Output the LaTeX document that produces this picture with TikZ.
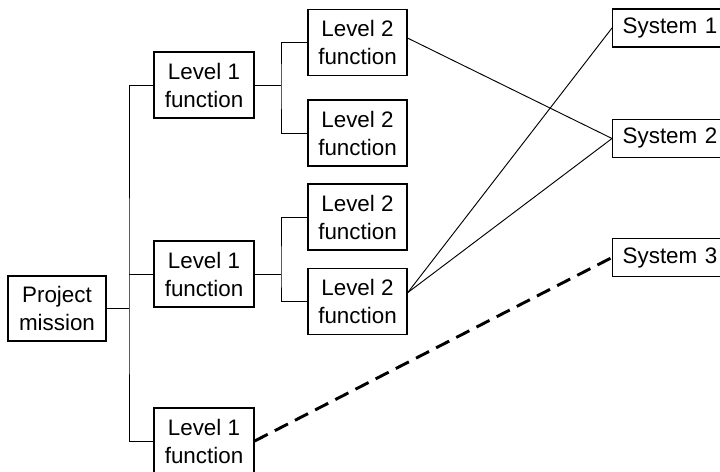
\documentclass[tikz,border=0pt]{standalone}
\usepackage{fontspec}
\setmainfont{Liberation Sans}
\usetikzlibrary{positioning}

\begin{document}
\begin{tikzpicture}[x=0.75pt,y=-0.75pt,
  box/.style={draw,line width=1pt,align=center,minimum width=75pt,minimum height=49.5pt,inner sep=2pt,font=\fontsize{16.8}{21}\selectfont},
  sysbox/.style={draw,line width=1pt,anchor=west,align=left,text width=72pt,inner xsep=7.5pt,minimum height=28.5pt,font=\fontsize{16.8}{21}\selectfont},
  link/.style={line width=0.7pt},
  dashlink/.style={line width=2.2pt,dash pattern=on 11pt off 6pt}]
  \useasboundingbox (0,0) rectangle (720,471);

  % Tree
  \node[box,minimum width=73.5pt,minimum height=48.75pt] (pm) at (57,308.5) {Project\\mission};
  \node[box] (l1a) at (204,85) {Level 1\\function};
  \node[box] (l1b) at (204,274) {Level 1\\function};
  \node[box] (l1c) at (204,441) {Level 1\\function};
  \node[box,minimum width=74.25pt] (l2a) at (357.5,42.5) {Level 2\\function};
  \node[box,minimum width=74.25pt] (l2b) at (357.5,133) {Level 2\\function};
  \node[box,minimum width=74.25pt] (l2c) at (357.5,217) {Level 2\\function};
  \node[box,minimum width=74.25pt] (l2d) at (357.5,301.5) {Level 2\\function};

  % Systems
  \node[sysbox] (s1) at (612,28) {System 1};
  \node[sysbox] (s2) at (612,138.5) {System 2};
  \node[sysbox] (s3) at (612,257.5) {System 3};

  \coordinate (trunk) at (129,308.5);
  \coordinate (br1) at (281,85);
  \coordinate (br2) at (281,274);

  \draw[link] (pm.east) -- (trunk);
  \draw[link] (l1a.west) -| (trunk) |- (l1c.west);
  \draw[link] (trunk |- l1b.west) -- (l1b.west);
  \draw[link] (l1a.east) -- (br1);
  \draw[link] (l2a.west) -| (br1) |- (l2b.west);
  \draw[link] (l1b.east) -- (br2);
  \draw[link] (l2c.west) -| (br2) |- (l2d.west);

  % Links to systems
  \draw[link] (l2a.5) -- (s2.west);
  \draw[link] (l2d.10) -- (s1.west);
  \draw[link] (l2d.10) -- (s2.west);
  \draw[dashlink] (l1c.east) -- (s3.west);
\end{tikzpicture}
\end{document}
